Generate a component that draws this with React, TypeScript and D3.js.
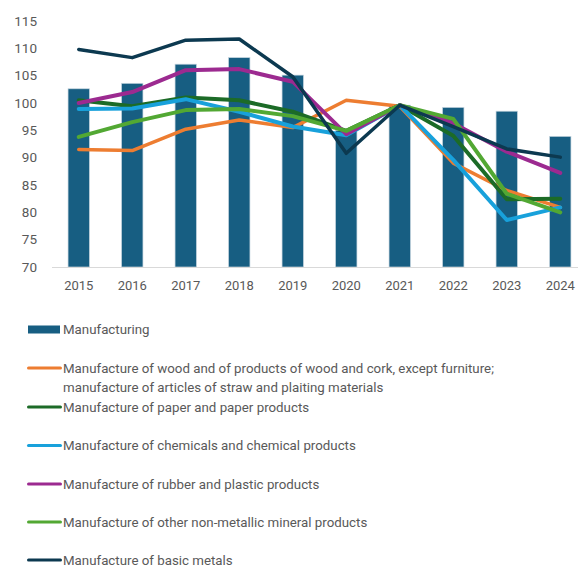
import React from "react";
import * as d3 from "d3";

const years = ["2015","2016","2017","2018","2019","2020","2021","2022","2023","2024"];
const yTicks = [70,75,80,85,90,95,100,105,110,115];

const manufacturing = [102.6,103.6,107.1,108.3,105.1,95.0,99.6,99.2,98.5,93.9];
const wood = [91.5,91.3,95.2,96.9,95.5,100.5,99.4,89.0,84.0,80.9];
const paper = [100.5,99.4,101.0,100.5,98.4,94.9,99.6,94.0,82.4,82.5];
const chemicals = [98.9,99.0,100.7,98.4,95.7,94.1,99.6,89.6,78.6,80.9];
const rubber = [100.0,102.0,106.0,106.2,103.9,94.3,99.6,96.3,91.1,87.2];
const mineral = [93.8,96.5,98.7,98.9,97.6,94.9,99.6,97.1,83.4,80.0];
const metals = [109.8,108.3,111.5,111.7,104.8,90.8,99.6,95.7,91.6,90.1];

const barLabel = "Manufacturing";
const lineSeries = [
  { name: ["Manufacture of wood and of products of wood and cork, except furniture;", "manufacture of articles of straw and plaiting materials"], values: wood, color: "#ed7d31", w: 3.5 },
  { name: ["Manufacture of paper and paper products"], values: paper, color: "#1c6b27", w: 4 },
  { name: ["Manufacture of chemicals and chemical products"], values: chemicals, color: "#18a1db", w: 4 },
  { name: ["Manufacture of rubber and plastic products"], values: rubber, color: "#9c2a90", w: 4 },
  { name: ["Manufacture of other non-metallic mineral products"], values: mineral, color: "#52a833", w: 4 },
  { name: ["Manufacture of basic metals"], values: metals, color: "#0c3950", w: 3.5 },
];

const barColor = "#175e82";
const textColor = "#595959";
const font = "Roboto, 'DejaVu Sans', sans-serif";

export default function App() {
  const W = 578, H = 567;
  const x = d3.scaleBand<string>().domain(years).range([52, 587]).paddingInner(0.6).paddingOuter(0.3);
  const xc = (i: number) => (x(years[i]) as number) + x.bandwidth() / 2;
  const y = d3.scaleLinear().domain([70, 115]).range([267, 21]);
  const line = d3.line<number>().x((_, i) => xc(i)).y((v) => y(v)).curve(d3.curveLinear);

  const legendRows: { label: string[]; y: number; type: "bar" | "line"; color: string }[] = [];
  legendRows.push({ label: [barLabel], y: 329.5, type: "bar", color: barColor });
  const rowYs = [368, 407, 445.5, 484, 522, 560];
  lineSeries.forEach((s, i) => legendRows.push({ label: s.name, y: rowYs[i], type: "line", color: s.color }));

  return (
    <svg width={W} height={H} style={{ position: "absolute", left: 0, top: 0, display: "block" }} fontFamily={font}>
      <rect width={W} height={H} fill="#ffffff" />
      {yTicks.map((t) => (
        <text key={t} x={37} y={y(t)} dy="0.35em" textAnchor="end" fontSize={13.5} fill={textColor}>{t}</text>
      ))}
      {manufacturing.map((v, i) => (
        <rect key={i} x={x(years[i])} y={y(v)} width={x.bandwidth()} height={y(70) - y(v)} fill={barColor} stroke="#c5d5df" strokeWidth={0.7} />
      ))}
      <line x1={52} x2={W} y1={267.5} y2={267.5} stroke="#d9d9d9" strokeWidth={1} />
      {years.map((yr, i) => (
        <text key={yr} x={xc(i)} y={285} dy="0.35em" textAnchor="middle" fontSize={13} fill={textColor}>{yr}</text>
      ))}
      {lineSeries.map((s, i) => (
        <path key={i} d={line(s.values) || ""} fill="none" stroke={s.color} strokeWidth={s.w} strokeLinejoin="round" strokeLinecap="round" />
      ))}
      {legendRows.map((r, i) => (
        <g key={i}>
          {r.type === "bar" ? (
            <rect x={28} y={r.y - 4} width={32} height={8} fill={r.color} />
          ) : (
            <line x1={28.5} x2={60.5} y1={r.y} y2={r.y} stroke={r.color} strokeWidth={3} strokeLinecap="round" />
          )}
          {r.label.map((l, j) => (
            <text key={j} x={63} y={r.y + j * 19.5} dy="0.35em" fontSize={13.3} fill={textColor}>{l}</text>
          ))}
        </g>
      ))}
    </svg>
  );
}
